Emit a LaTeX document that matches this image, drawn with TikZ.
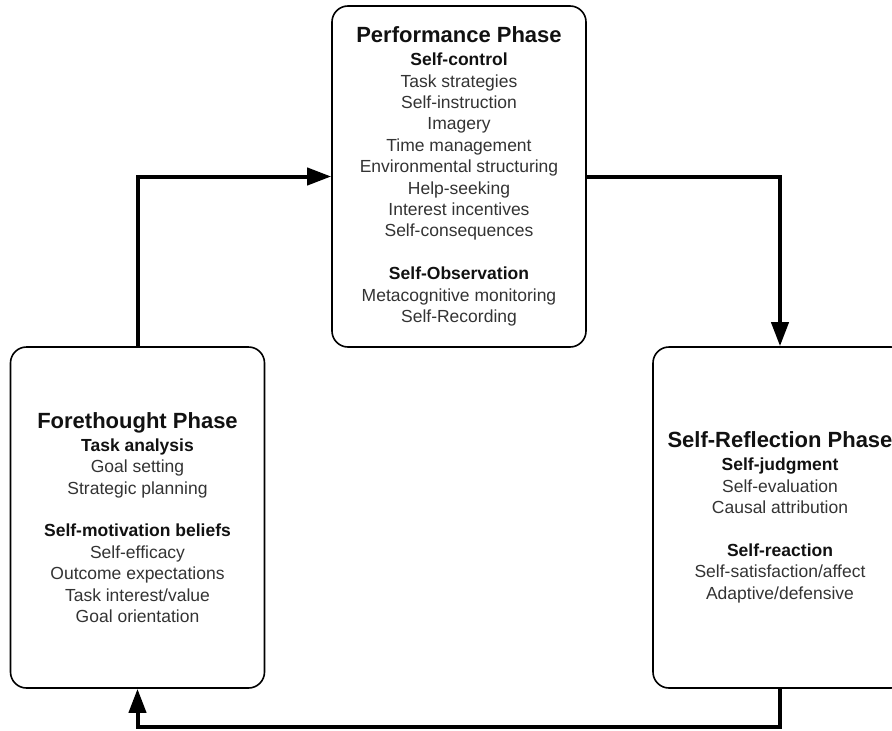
\documentclass[tikz,border=0pt]{standalone}
\usepackage{fontspec}
\setmainfont{Liberation Sans}
\usetikzlibrary{arrows.meta}
\definecolor{phasetext}{RGB}{51,51,51}
\definecolor{phaseheadcol}{RGB}{17,17,17}
\newcommand{\phasetitle}[1]{{\fontsize{22}{23}\selectfont\bfseries\textcolor{phaseheadcol}{#1}}}
\newcommand{\phasesub}[1]{\textbf{\textcolor{phaseheadcol}{#1}}}
\tikzset{
	phasebox/.style={
		draw=black,
		line width=1.6pt,
		rounded corners=16pt,
		minimum width=254pt,
		minimum height=341pt,
		inner sep=0pt,
		align=center,
		text=phasetext,
		font=\fontsize{17.5}{21.4}\selectfont
	},
	cyclearrow/.style={
		line width=4pt,
		-{Triangle[length=24pt,width=17pt]}
	}
}

\begin{document}
\begin{tikzpicture}[x=1pt,y=-1pt]
		\clip (0,0) rectangle (892,731);
		\node[phasebox] (perf) at (459,176.5) {
			\phasetitle{Performance Phase}\\[1.6pt]
			\phasesub{Self-control}\\
			Task strategies\\
			Self-instruction\\
			Imagery\\
			Time management\\
			Environmental structuring\\
			Help-seeking\\
			Interest incentives\\
			Self-consequences\\[21.4pt]
			\phasesub{Self-Observation}\\
			Metacognitive monitoring\\
			Self-Recording
			};
		\node[phasebox] (fore) at (137.5,517.5) {
			\phasetitle{Forethought Phase}\\[1.6pt]
			\phasesub{Task analysis}\\
			Goal setting\\
			Strategic planning\\[21.4pt]
			\phasesub{Self-motivation beliefs}\\
			Self-efficacy\\
			Outcome expectations\\
			Task interest/value\\
			Goal orientation
			};
		\node[phasebox] (refl) at (780,517.5) {
			\phasetitle{Self-Reflection Phase}\\[1.6pt]
			\phasesub{Self-judgment}\\
			Self-evaluation\\
			Causal attribution\\[21.4pt]
			\phasesub{Self-reaction}\\
			Self-satisfaction/affect\\
			Adaptive/defensive
			};
		\coordinate (loopbot) at (459,727);
		\draw[cyclearrow] (fore.north) |- (perf.west);
		\draw[cyclearrow] (perf.east) -| (refl.north);
		\draw[cyclearrow] (refl.south) |- (loopbot) -| (fore.south);
	\end{tikzpicture}
\end{document}
